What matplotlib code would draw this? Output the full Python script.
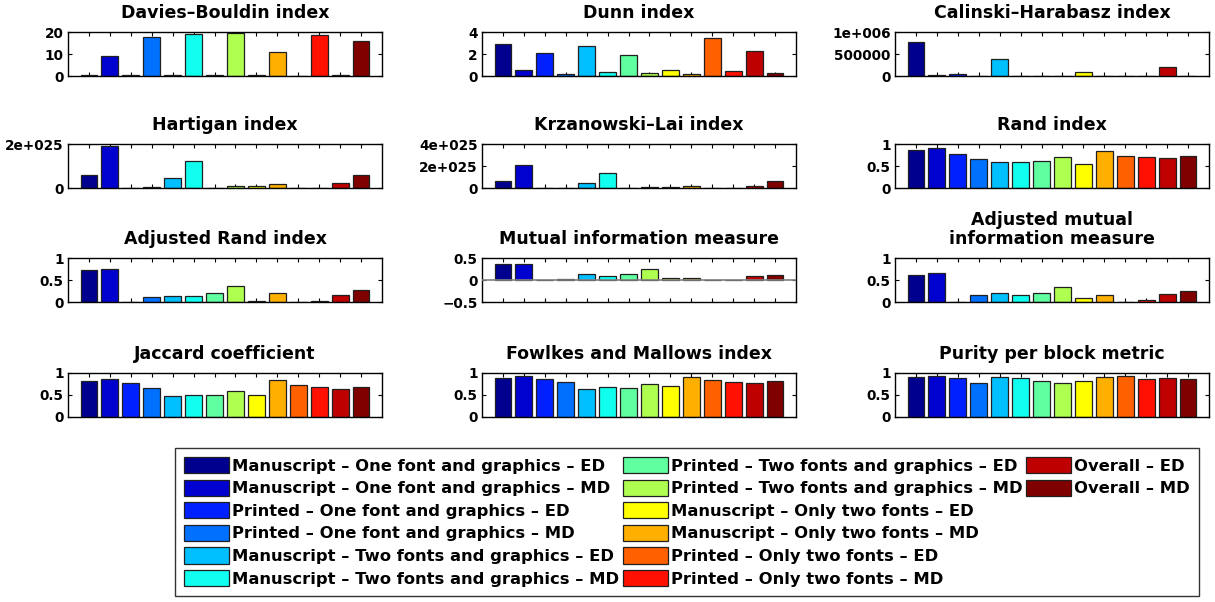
import numpy as np
import matplotlib
matplotlib.use("Agg")
import matplotlib.pyplot as plt
from matplotlib.patches import Rectangle

plt.rcParams['font.family'] = ['DejaVu Sans']
plt.rcParams['font.weight'] = 'bold'

series_labels = [
    "Manuscript \u2013 One font and graphics \u2013 ED",
    "Manuscript \u2013 One font and graphics \u2013 MD",
    "Printed \u2013 One font and graphics \u2013 ED",
    "Printed \u2013 One font and graphics \u2013 MD",
    "Manuscript \u2013 Two fonts and graphics \u2013 ED",
    "Manuscript \u2013 Two fonts and graphics \u2013 MD",
    "Printed \u2013 Two fonts and graphics \u2013 ED",
    "Printed \u2013 Two fonts and graphics \u2013 MD",
    "Manuscript \u2013 Only two fonts \u2013 ED",
    "Manuscript \u2013 Only two fonts \u2013 MD",
    "Printed \u2013 Only two fonts \u2013 ED",
    "Printed \u2013 Only two fonts \u2013 MD",
    "Overall \u2013 ED",
    "Overall \u2013 MD",
]

titles = [
    "Davies\u2013Bouldin index", "Dunn index", "Calinski\u2013Harabasz index",
    "Hartigan index", "Krzanowski\u2013Lai index", "Rand index",
    "Adjusted Rand index", "Mutual information measure", "Adjusted mutual\ninformation measure",
    "Jaccard coefficient", "Fowlkes and Mallows index", "Purity per block metric",
]

davies_bouldin = [0.3, 9.3, 0.3, 17.9, 0.3, 19.2, 0.4, 19.6, 0.6, 10.7, 0.2, 18.6, 0.3, 15.9]
dunn = [2.92, 0.52, 2.12, 0.18, 2.74, 0.34, 1.94, 0.25, 0.52, 0.18, 3.45, 0.46, 2.28, 0.30]
calinski = [7.7e5, 3e4, 5e4, 5e3, 3.77e5, 5e3, 8e3, 3e3, 8.5e4, 5e3, 2e3, 2e3, 2.15e5, 6e3]
hartigan = [0.61e25, 1.93e25, 0.02e25, 0.045e25, 0.46e25, 1.22e25, 0.02e25, 0.075e25,
            0.10e25, 0.16e25, 0.01e25, 0.01e25, 0.21e25, 0.57e25]
krzanowski = [0.63e25, 2.05e25, 0.02e25, 0.04e25, 0.48e25, 1.32e25, 0.02e25, 0.07e25,
              0.12e25, 0.21e25, 0.01e25, 0.01e25, 0.21e25, 0.60e25]
rand_idx = [0.87, 0.90, 0.78, 0.66, 0.59, 0.58, 0.61, 0.70, 0.54, 0.84, 0.72, 0.71, 0.69, 0.72]
adj_rand = [0.73, 0.75, 0.005, 0.12, 0.14, 0.14, 0.20, 0.37, 0.02, 0.20, 0.01, 0.03, 0.17, 0.27]
mutual_info = [0.36, 0.37, -0.005, 0.03, 0.13, 0.10, 0.14, 0.25, 0.04, 0.035, -0.01, -0.005, 0.10, 0.12]
adj_mutual_info = [0.61, 0.66, 0.005, 0.15, 0.20, 0.17, 0.20, 0.34, 0.09, 0.17, 0.005, 0.04, 0.18, 0.25]
jaccard = [0.82, 0.86, 0.78, 0.66, 0.48, 0.51, 0.50, 0.59, 0.51, 0.83, 0.73, 0.68, 0.64, 0.68]
fowlkes = [0.89, 0.93, 0.87, 0.80, 0.64, 0.68, 0.67, 0.74, 0.70, 0.91, 0.85, 0.80, 0.77, 0.81]
purity = [0.92, 0.93, 0.88, 0.78, 0.91, 0.89, 0.82, 0.77, 0.82, 0.90, 0.94, 0.86, 0.88, 0.86]

all_values = [davies_bouldin, dunn, calinski, hartigan, krzanowski, rand_idx,
              adj_rand, mutual_info, adj_mutual_info, jaccard, fowlkes, purity]

ylims = [(0, 20), (0, 4), (0, 1e6), (0, 2e25), (0, 4e25), (0, 1),
         (0, 1), (-0.5, 0.5), (0, 1), (0, 1), (0, 1), (0, 1)]
yticks = [[0, 10, 20], [0, 2, 4], [0, 5e5, 1e6], [0, 2e25], [0, 2e25, 4e25], [0, 0.5, 1],
          [0, 0.5, 1], [-0.5, 0, 0.5], [0, 0.5, 1], [0, 0.5, 1], [0, 0.5, 1], [0, 0.5, 1]]
yticklabels = [["0", "10", "20"], ["0", "2", "4"], ["0", "500000", "1e+006"], ["0", "2e+025"],
               ["0", "2e+025", "4e+025"], ["0", "0.5", "1"], ["0", "0.5", "1"],
               ["\u22120.5", "0", "0.5"], ["0", "0.5", "1"], ["0", "0.5", "1"],
               ["0", "0.5", "1"], ["0", "0.5", "1"]]


def matlab_jet(m=64):
    """MATLAB's jet(m) colormap table."""
    n = int(np.ceil(m / 4))
    u = np.concatenate([np.arange(1, n + 1) / n, np.ones(n - 1), np.arange(n, 0, -1) / n])
    g = int(np.ceil(n / 2)) - (1 if m % 4 == 1 else 0) + np.arange(1, len(u) + 1)
    r = g + n
    b = g - n
    cmap = np.zeros((m, 3))
    for idx, ch in ((r, 0), (g, 1), (b, 2)):
        keep = (idx >= 1) & (idx <= m)
        cmap[idx[keep] - 1, ch] = u[keep]
    return cmap


n = len(series_labels)
jet64 = matlab_jet(64)
cidx = np.minimum(np.floor(np.arange(n) / (n - 1) * 64).astype(int), 63)
colors = jet64[cidx]

W, H = 1215, 602
fig = plt.figure(figsize=(W / 100, H / 100), dpi=100)

col_left = [68, 482, 895]
row_top = [32, 144, 258, 373]
ax_w, ax_h = 314, 44

x = np.arange(1, n + 1)

handles = None
for i, vals in enumerate(all_values):
    r, c = divmod(i, 3)
    left = col_left[c] / W
    bottom = (H - row_top[r] - ax_h) / H
    ax = fig.add_axes([left, bottom, ax_w / W, ax_h / H])
    bars = ax.bar(x, vals, width=0.8, color=colors, edgecolor='#202020', linewidth=0.9, zorder=2)
    if handles is None:
        handles = list(bars)
    if ylims[i][0] < 0:
        ax.axhline(0, color='#808080', lw=1.2, zorder=3)
    ax.set_xlim(0, 15)
    ax.set_ylim(*ylims[i])
    ax.set_xticks(x)
    ax.set_xticklabels([])
    ax.set_yticks(yticks[i])
    ax.set_yticklabels(yticklabels[i], fontsize=9.8, fontweight='bold')
    ax.tick_params(direction='in', length=3, width=0.8, top=True, right=True, pad=3)
    for s in ax.spines.values():
        s.set_linewidth(1.0)
    ax.set_title(titles[i], fontsize=12.5, fontweight='bold', pad=10, linespacing=1.05)

# legend laid out column-wise: 6 + 6 + 2 entries (pad the last column with blanks)
blank = Rectangle((0, 0), 1, 1, visible=False)
leg_handles = handles[:12] + handles[12:] + [blank] * 4
leg_labels = series_labels[:12] + series_labels[12:] + [""] * 4

leg = fig.legend(leg_handles, leg_labels, ncol=3, loc='upper left',
                 bbox_to_anchor=(175 / W, 1 - 448 / H),
                 prop={'size': 11.8, 'weight': 'bold'}, frameon=True, fancybox=False,
                 edgecolor='black', handlelength=2.75, handleheight=1.15,
                 handletextpad=0.2, columnspacing=0.2, labelspacing=0.36,
                 borderpad=0.55, borderaxespad=0)
leg.get_frame().set_linewidth(1.0)

fig.savefig("out.png", dpi=100)
